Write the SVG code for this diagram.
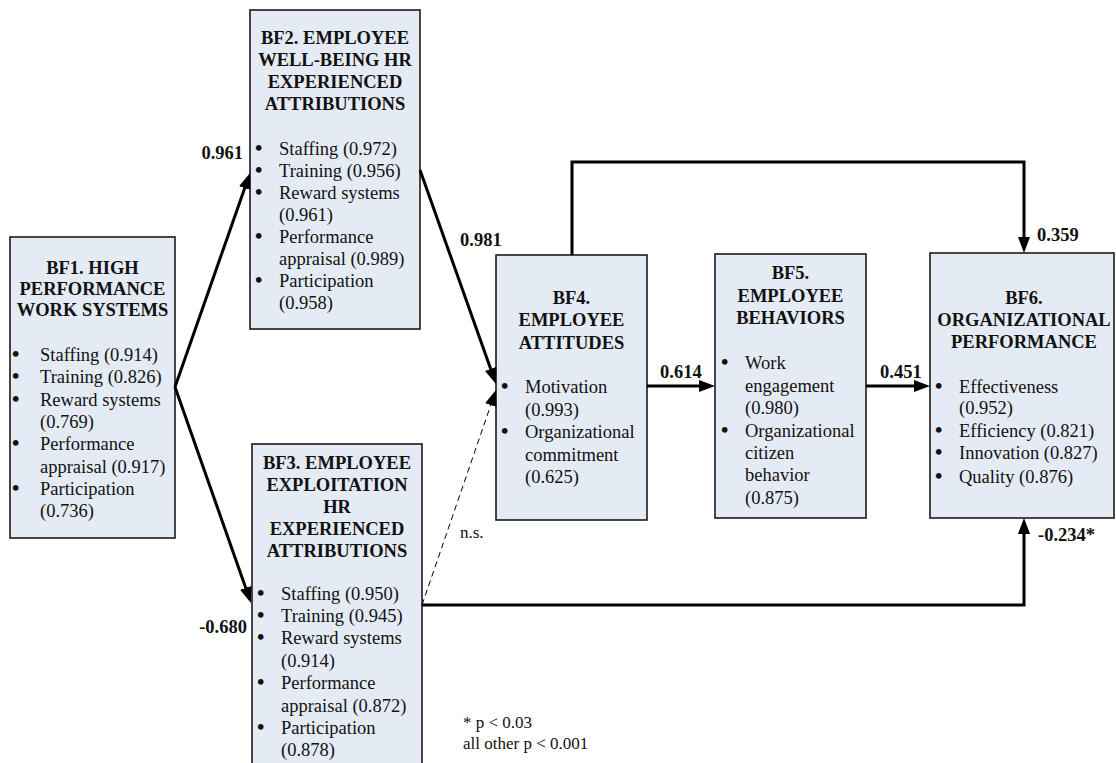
<svg xmlns="http://www.w3.org/2000/svg" width="1116" height="763" viewBox="0 0 1116 763">
<style>
.box{fill:#e5ebf5;stroke:#1a1a1a;stroke-width:1.6}
.t{font-family:"Liberation Serif","Times New Roman",Times,serif;font-size:18.5px;font-weight:bold;fill:#111;text-anchor:middle}
.b{font-family:"Liberation Serif","Times New Roman",Times,serif;font-size:18.5px;fill:#111}
.u{font-size:21px;font-weight:bold}
.lbl{font-family:"Liberation Serif","Times New Roman",Times,serif;font-size:18.5px;font-weight:bold;fill:#111}
.note{font-family:"Liberation Serif","Times New Roman",Times,serif;font-size:17px;fill:#111}
.c{fill:none;stroke:#000;stroke-width:3;marker-end:url(#ah)}
.d{fill:none;stroke:#000;stroke-width:1;stroke-dasharray:6 4;marker-end:url(#ah)}
</style>
<defs>
<marker id="ah" viewBox="0 0 16 12" refX="10" refY="6" markerWidth="16" markerHeight="12" markerUnits="userSpaceOnUse" orient="auto">
<path d="M0,0 L16,6 L0,12 z" fill="#000" stroke="none"/>
</marker>
</defs>
<rect width="1116" height="763" fill="#fff"/>

<g id="BF1">
<rect class="box" x="10" y="237" width="165" height="301"/>
<text class="t" x="92.5" y="274">BF1. HIGH</text>
<text class="t" x="92.5" y="295">PERFORMANCE</text>
<text class="t" x="92.5" y="316">WORK SYSTEMS</text>
<text class="b"><tspan class="u" x="12" y="361">•</tspan><tspan x="40" y="361">Staffing (0.914)</tspan><tspan class="u" x="12" y="383.3">•</tspan><tspan x="40" y="383.3">Training (0.826)</tspan><tspan class="u" x="12" y="405.6">•</tspan><tspan x="40" y="405.6">Reward systems</tspan><tspan x="40" y="427.9">(0.769)</tspan><tspan class="u" x="12" y="450.2">•</tspan><tspan x="40" y="450.2">Performance</tspan><tspan x="40" y="472.5">appraisal (0.917)</tspan><tspan class="u" x="12" y="494.8">•</tspan><tspan x="40" y="494.8">Participation</tspan><tspan x="40" y="517.1">(0.736)</tspan></text>
</g>

<g id="BF2">
<rect class="box" x="250" y="10" width="170" height="319"/>
<text class="t" x="335" y="44">BF2. EMPLOYEE</text>
<text class="t" x="335" y="66">WELL-BEING HR</text>
<text class="t" x="335" y="88">EXPERIENCED</text>
<text class="t" x="335" y="110">ATTRIBUTIONS</text>
<text class="b"><tspan class="u" x="255" y="155">•</tspan><tspan x="279" y="155">Staffing (0.972)</tspan><tspan class="u" x="255" y="177">•</tspan><tspan x="279" y="177">Training (0.956)</tspan><tspan class="u" x="255" y="199">•</tspan><tspan x="279" y="199">Reward systems</tspan><tspan x="279" y="221">(0.961)</tspan><tspan class="u" x="255" y="243">•</tspan><tspan x="279" y="243">Performance</tspan><tspan x="279" y="265">appraisal (0.989)</tspan><tspan class="u" x="255" y="287">•</tspan><tspan x="279" y="287">Participation</tspan><tspan x="279" y="309">(0.958)</tspan></text>
</g>

<g id="BF3">
<rect class="box" x="252" y="444" width="170" height="340"/>
<text class="t" x="337" y="469">BF3. EMPLOYEE</text>
<text class="t" x="337" y="491">EXPLOITATION</text>
<text class="t" x="337" y="513">HR</text>
<text class="t" x="337" y="535">EXPERIENCED</text>
<text class="t" x="337" y="557">ATTRIBUTIONS</text>
<text class="b"><tspan class="u" x="257" y="600">•</tspan><tspan x="281" y="600">Staffing (0.950)</tspan><tspan class="u" x="257" y="622">•</tspan><tspan x="281" y="622">Training (0.945)</tspan><tspan class="u" x="257" y="644">•</tspan><tspan x="281" y="644">Reward systems</tspan><tspan x="281" y="667">(0.914)</tspan><tspan class="u" x="257" y="689">•</tspan><tspan x="281" y="689">Performance</tspan><tspan x="281" y="712">appraisal (0.872)</tspan><tspan class="u" x="257" y="734">•</tspan><tspan x="281" y="734">Participation</tspan><tspan x="281" y="756">(0.878)</tspan></text>
</g>

<g id="BF4">
<rect class="box" x="496" y="255" width="151" height="265"/>
<text class="t" x="571.5" y="304">BF4.</text>
<text class="t" x="571.5" y="326">EMPLOYEE</text>
<text class="t" x="571.5" y="349">ATTITUDES</text>
<text class="b"><tspan class="u" x="501" y="393">•</tspan><tspan x="525" y="393">Motivation</tspan><tspan x="525" y="416">(0.993)</tspan><tspan class="u" x="501" y="438">•</tspan><tspan x="525" y="438">Organizational</tspan><tspan x="525" y="461">commitment</tspan><tspan x="525" y="483">(0.625)</tspan></text>
</g>

<g id="BF5">
<rect class="box" x="715" y="254" width="151" height="264"/>
<text class="t" x="790.5" y="279">BF5.</text>
<text class="t" x="790.5" y="302">EMPLOYEE</text>
<text class="t" x="790.5" y="324">BEHAVIORS</text>
<text class="b"><tspan class="u" x="721" y="369">•</tspan><tspan x="745" y="369">Work</tspan><tspan x="745" y="392">engagement</tspan><tspan x="745" y="414">(0.980)</tspan><tspan class="u" x="721" y="437">•</tspan><tspan x="745" y="437">Organizational</tspan><tspan x="745" y="459">citizen</tspan><tspan x="745" y="481">behavior</tspan><tspan x="745" y="504">(0.875)</tspan></text>
</g>

<g id="BF6">
<rect class="box" x="930" y="253" width="184" height="265"/>
<text class="t" x="1024" y="304">BF6.</text>
<text class="t" x="1024" y="326">ORGANIZATIONAL</text>
<text class="t" x="1024" y="348">PERFORMANCE</text>
<text class="b"><tspan class="u" x="935" y="393">•</tspan><tspan x="959" y="393">Effectiveness</tspan><tspan x="959" y="414">(0.952)</tspan><tspan class="u" x="935" y="437">•</tspan><tspan x="959" y="437">Efficiency (0.821)</tspan><tspan class="u" x="935" y="459">•</tspan><tspan x="959" y="459">Innovation (0.827)</tspan><tspan class="u" x="935" y="483">•</tspan><tspan x="959" y="483">Quality (0.876)</tspan></text>
</g>

<g id="connectors">
<path class="c" d="M175,387 L248,178.7"/>
<path class="c" d="M175,387 L249,597.3"/>
<path class="c" d="M420,170 L494,378.3"/>
<path class="d" d="M422,605 L494,395.7"/>
<path class="c" d="M647,386 L709,386"/>
<path class="c" d="M866,386 L924,386"/>
<path class="c" d="M572,255 V162 H1024 V247"/>
<path class="c" d="M422,605 H1024 V524"/>
</g>

<g id="labels">
<text class="lbl" x="243" y="159" text-anchor="end">0.961</text>
<text class="lbl" x="247" y="633" text-anchor="end">-0.680</text>
<text class="lbl" x="460" y="246">0.981</text>
<text class="lbl" x="660" y="378">0.614</text>
<text class="lbl" x="880" y="378">0.451</text>
<text class="lbl" x="1037" y="241">0.359</text>
<text class="lbl" x="1038" y="541">-0.234*</text>
<text class="b" x="460" y="538" style="font-size:17px">n.s.</text>
<text class="note" x="463" y="728">* p &lt; 0.03</text>
<text class="note" x="463" y="749">all other p &lt; 0.001</text>
</g>
</svg>
